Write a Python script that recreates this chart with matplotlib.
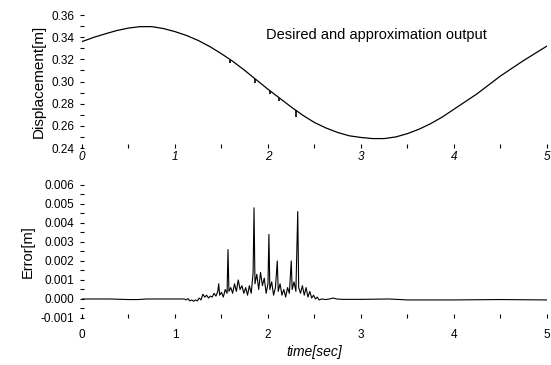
import matplotlib
matplotlib.use("Agg")
import matplotlib.pyplot as plt
from matplotlib.ticker import MultipleLocator, FormatStrFormatter

plt.rcParams['font.family'] = ['Liberation Sans', 'DejaVu Sans']

# ---- Desired displacement ----
disp_t = [0.0, 0.125, 0.25, 0.375, 0.5, 0.625, 0.75, 0.875, 1.0, 1.125,
          1.25, 1.375, 1.5, 1.625, 1.75, 1.875, 2.0, 2.125, 2.25, 2.375,
          2.5, 2.625, 2.75, 2.875, 3.0, 3.125, 3.25, 3.375, 3.5, 3.625,
          3.75, 3.875, 4.0, 4.125, 4.25, 4.375, 4.5, 4.625, 4.75, 4.875, 5.0]
disp_v = [0.336, 0.3398, 0.343, 0.346, 0.3482, 0.3495, 0.3495, 0.3478, 0.345,
          0.3415, 0.337, 0.3315, 0.325, 0.318, 0.310, 0.3015, 0.293, 0.285,
          0.277, 0.2695, 0.263, 0.258, 0.254, 0.251, 0.2495, 0.2485, 0.2485,
          0.250, 0.253, 0.257, 0.262, 0.268, 0.275, 0.282, 0.289, 0.297,
          0.305, 0.312, 0.319, 0.3255, 0.332]

# small glitches of the approximation hanging below the curve
glitch_t = [1.59, 1.86, 2.02, 2.12, 2.30]
glitch_top = [0.3196, 0.3025, 0.2917, 0.2853, 0.2740]
glitch_bot = [0.3166, 0.2985, 0.2885, 0.2826, 0.2680]

# ---- Error, units of 1e-3 m ----
err_t = [0.0, 0.3, 0.5, 0.6, 0.7, 1.0, 1.1,
         1.12, 1.14, 1.16, 1.18, 1.20, 1.22, 1.24, 1.26, 1.28, 1.30, 1.32,
         1.34, 1.36, 1.38, 1.40, 1.42, 1.44, 1.46, 1.47, 1.48, 1.50, 1.52,
         1.54, 1.56, 1.57, 1.58, 1.60, 1.62, 1.64, 1.66, 1.68, 1.70, 1.72,
         1.74, 1.76, 1.78, 1.80, 1.82, 1.84, 1.85, 1.86, 1.88, 1.90, 1.92,
         1.94, 1.96, 1.98, 2.00, 2.01, 2.02, 2.04, 2.06, 2.08, 2.10, 2.11,
         2.13, 2.15, 2.17, 2.19, 2.21, 2.23, 2.25, 2.26, 2.28, 2.30, 2.32,
         2.33, 2.35, 2.37, 2.39, 2.41, 2.43, 2.45, 2.47, 2.49, 2.51, 2.53,
         2.55, 2.58, 2.62, 2.66, 2.70, 2.74, 2.8, 3.0, 3.3, 3.5, 4.0, 4.5, 5.0]
err_v = [0.0, 0.0, -0.03, -0.03, 0.0, 0.0, 0.0,
         -0.05, 0.02, -0.10, -0.05, -0.12, -0.05, -0.10, 0.05, -0.05, 0.25, 0.10,
         0.20, 0.05, 0.15, 0.10, 0.30, 0.15, 0.40, 0.80, 0.20, 0.35, 0.10,
         0.50, 0.30, 2.60, 0.40, 0.60, 0.30, 0.80, 0.40, 1.00, 0.50, 0.70,
         0.30, 0.60, 0.20, 0.70, 0.30, 1.40, 4.80, 0.80, 1.30, 0.50, 1.40,
         0.70, 1.10, 0.30, 0.80, 3.40, 0.50, 0.90, 0.20, 0.60, 2.00, 0.40,
         0.80, 0.20, 0.50, 0.10, 0.60, 0.30, 2.00, 0.50, 0.90, 0.40, 4.60,
         0.60, 0.30, 0.70, 0.20, 0.60, 0.10, 0.40, 0.05, 0.20, 0.00, 0.10,
         -0.05, 0.00, -0.03, 0.00, 0.05, 0.00, -0.02, -0.02, 0.00, -0.05, -0.05, -0.03, -0.05]

x_ticks = [0, 1, 2, 3, 4, 5]

fig = plt.figure(figsize=(5.51, 3.65), dpi=100)
ax1 = fig.add_axes([0.1488, 0.5945, 0.8439, 0.3644])
ax2 = fig.add_axes([0.1488, 0.1288, 0.8439, 0.3644])

ax1.plot(disp_t, disp_v, color='black', lw=0.9)
ax1.vlines(glitch_t, glitch_bot, glitch_top, color='black', lw=1.2)
ax2.plot(err_t, [v * 1e-3 for v in err_v], color='black', lw=0.8)

for ax in (ax1, ax2):
    for s in ax.spines.values():
        s.set_visible(False)
    ax.set_xlim(0, 5)
    ax.set_xticks(x_ticks)
    ax.xaxis.set_minor_locator(MultipleLocator(0.5))
    ax.tick_params(axis='x', which='both', direction='in', length=3, width=0.8,
                   labelsize=8.5)
    ax.tick_params(axis='y', which='both', direction='inout', length=3, width=0.8,
                   labelsize=8.5, pad=4)
    ax.set_facecolor('none')

ax1.set_ylim(0.24, 0.36)
ax1.yaxis.set_major_locator(MultipleLocator(0.02))
ax1.yaxis.set_minor_locator(MultipleLocator(0.01))
ax1.yaxis.set_major_formatter(FormatStrFormatter('%.2f'))
ax1.tick_params(axis='x', pad=2)
for lab in ax1.get_xticklabels():
    lab.set_fontstyle('italic')
ax1.set_ylabel('Displacement[m]', fontsize=11, labelpad=4)
ax1.text(0.395, 0.85, 'Desired and approximation output', transform=ax1.transAxes,
         fontsize=10.5, ha='left', va='center')

ax2.set_ylim(-0.001, 0.006)
ax2.yaxis.set_major_locator(MultipleLocator(0.001))
ax2.yaxis.set_minor_locator(MultipleLocator(0.0005))
ax2.yaxis.set_major_formatter(FormatStrFormatter('%.3f'))
ax2.tick_params(axis='x', pad=8)
ax2.set_ylabel('Error[m]', fontsize=10.5, labelpad=4)
ax2.set_xlabel('time[sec]', fontsize=10, fontstyle='italic', labelpad=3)

fig.savefig('out.png', dpi=100)
